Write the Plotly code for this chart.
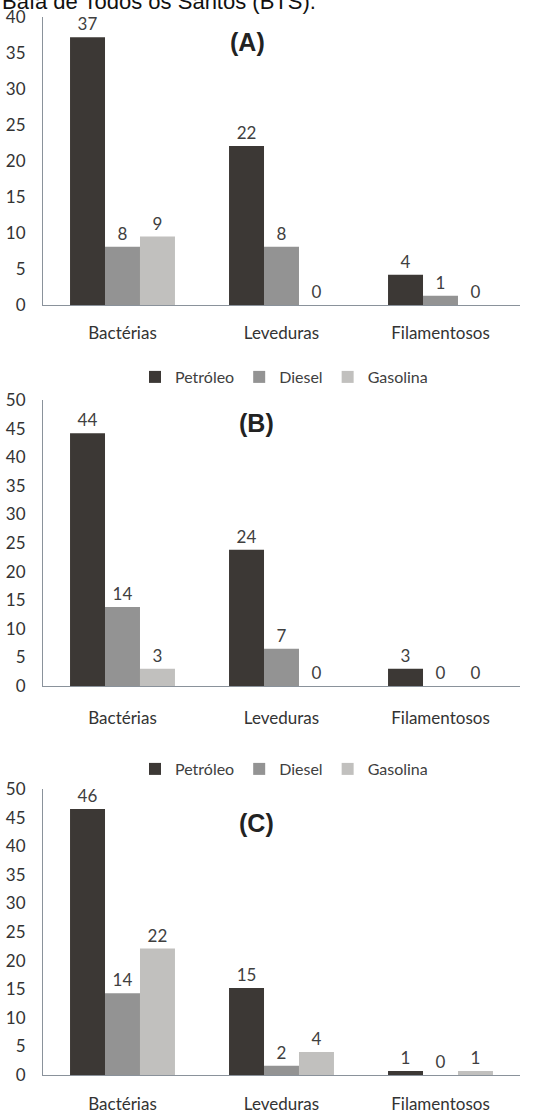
import plotly.graph_objects as go

categories = ["Bactérias", "Leveduras", "Filamentosos"]
series_names = ["Petróleo", "Diesel", "Gasolina"]
series_colors = ["#3c3835", "#939393", "#c1c0be"]

# Panel (A)
a_petroleo = [37.2, 22.1, 4.2]
a_diesel = [8.1, 8.1, 1.3]
a_gasolina = [9.5, 0.0, 0.0]
a_petroleo_lbl = ["37", "22", "4"]
a_diesel_lbl = ["8", "8", "1"]
a_gasolina_lbl = ["9", "0", "0"]

# Panel (B)
b_petroleo = [44.2, 23.8, 3.0]
b_diesel = [13.8, 6.5, 0.0]
b_gasolina = [3.0, 0.0, 0.0]
b_petroleo_lbl = ["44", "24", "3"]
b_diesel_lbl = ["14", "7", "0"]
b_gasolina_lbl = ["3", "0", "0"]

# Panel (C)
c_petroleo = [46.5, 15.2, 0.7]
c_diesel = [14.3, 1.6, 0.0]
c_gasolina = [22.1, 4.0, 0.7]
c_petroleo_lbl = ["46", "15", "1"]
c_diesel_lbl = ["14", "2", "0"]
c_gasolina_lbl = ["22", "4", "1"]

panel_titles = ["(A)", "(B)", "(C)"]
y_max = [40, 50, 50]

W, H = 542, 1113
FONT = "Lato"
AXIS_COLOR = "#8a929b"
TEXT_COLOR = "#333333"


def py(px):
    return 1 - px / H


panels = [
    dict(vals=[a_petroleo, a_diesel, a_gasolina],
         lbls=[a_petroleo_lbl, a_diesel_lbl, a_gasolina_lbl],
         top=17, bottom=305, standoff=13, legend="legend"),
    dict(vals=[b_petroleo, b_diesel, b_gasolina],
         lbls=[b_petroleo_lbl, b_diesel_lbl, b_gasolina_lbl],
         top=400, bottom=686, standoff=17, legend="legend2"),
    dict(vals=[c_petroleo, c_diesel, c_gasolina],
         lbls=[c_petroleo_lbl, c_diesel_lbl, c_gasolina_lbl],
         top=789, bottom=1075, standoff=14, legend=None),
]

fig = go.Figure()
layout = dict(
    template="none",
    width=W, height=H,
    margin=dict(l=0, r=0, t=0, b=0, autoexpand=False),
    paper_bgcolor="white", plot_bgcolor="white",
    barmode="group", bargap=0.34, bargroupgap=0,
    font=dict(family=FONT, size=17, color=TEXT_COLOR),
    showlegend=True,
)

x0, x1 = 43 / W, 520 / W
annotations = []
for i, p in enumerate(panels):
    n = "" if i == 0 else str(i + 1)
    for k in range(3):
        fig.add_trace(go.Bar(
            x=categories, y=p["vals"][k], name=series_names[k],
            marker=dict(color=series_colors[k], line=dict(width=0)),
            text=p["lbls"][k], textposition="outside",
            textfont=dict(family=FONT, size=17, color="#404040"),
            constraintext="none", cliponaxis=False,
            xaxis="x" + n, yaxis="y" + n,
            showlegend=p["legend"] is not None,
            legend=p["legend"] if p["legend"] else "legend",
            hoverinfo="skip",
        ))
    layout["xaxis" + n] = dict(
        domain=[x0, x1], anchor="y" + n, automargin=False,
        showline=True, linecolor=AXIS_COLOR, linewidth=1,
        showgrid=False, zeroline=False, ticks="",
        ticklabelstandoff=p["standoff"],
        tickfont=dict(family=FONT, size=17, color=TEXT_COLOR),
        fixedrange=True,
    )
    layout["yaxis" + n] = dict(
        domain=[py(p["bottom"]), py(p["top"])], anchor="x" + n,
        automargin=False,
        range=[0, y_max[i]], dtick=5,
        showline=True, linecolor=AXIS_COLOR, linewidth=1,
        showgrid=False, zeroline=False, ticks="",
        ticklabelstandoff=13,
        tickfont=dict(family=FONT, size=17, color=TEXT_COLOR),
        fixedrange=True,
    )

title_pos = [(247, 42), (256, 423), (256, 823)]
for t, (tx, ty) in zip(panel_titles, title_pos):
    annotations.append(dict(
        text="<b>%s</b>" % t, xref="paper", yref="paper",
        x=tx / W, y=py(ty), xanchor="center", yanchor="middle",
        showarrow=False,
        font=dict(family="Liberation Sans", size=25, color="#222222"),
    ))

annotations.append(dict(
    text="Baía de Todos os Santos (BTS).", xref="paper", yref="paper",
    x=0, y=py(1), xanchor="left", yanchor="middle", showarrow=False,
    font=dict(family="Liberation Sans", size=22, color="#111111"),
))
layout["annotations"] = annotations

legend_common = dict(
    orientation="h", xanchor="left", yanchor="middle",
    font=dict(family=FONT, size=16, color="#404040"),
    bgcolor="rgba(0,0,0,0)", traceorder="normal",
    itemclick=False, itemdoubleclick=False,
)
layout["legend"] = dict(legend_common, x=135 / W, y=py(377))
layout["legend2"] = dict(legend_common, x=135 / W, y=py(769))

fig.update_layout(**layout)
fig.write_html(
    "out.html",
    config={"displayModeBar": False, "staticPlot": True},
    post_script="document.body.style.margin='0';document.body.style.overflow='hidden';",
)
